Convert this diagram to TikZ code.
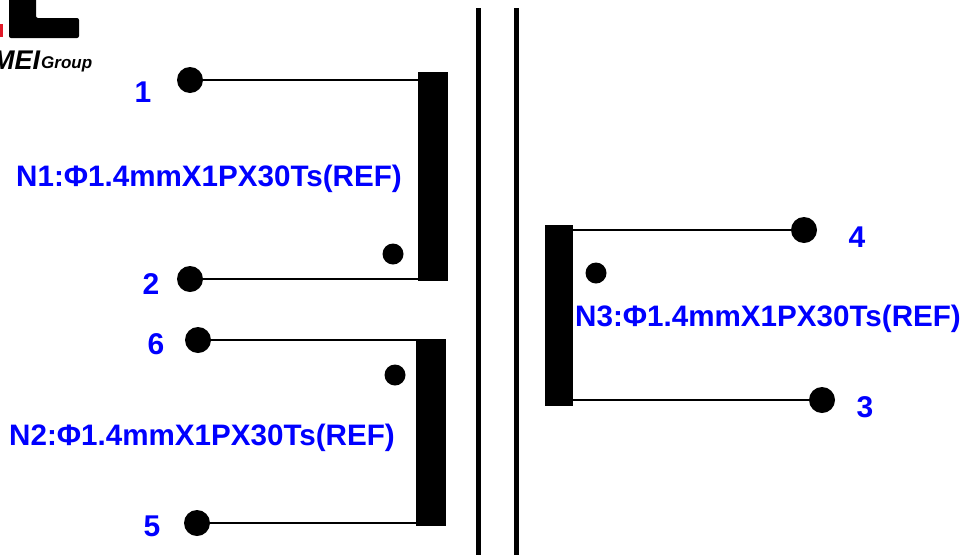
\documentclass[tikz,border=0pt]{standalone}
\usepackage{fontspec}
\setmainfont{Liberation Sans}
\definecolor{lbl}{RGB}{0,0,255}
\definecolor{logored}{RGB}{225,25,40}
\tikzset{
 bar/.style={fill=black,draw=none},
 term/.style={circle,fill=black,draw=none,minimum size=26pt,inner sep=0pt},
 dotm/.style={circle,fill=black,draw=none,minimum size=21pt,inner sep=0pt},
 wire/.style={line width=1.6pt,draw=black},
 core/.style={line width=5pt,draw=black},
 lab/.style={text=lbl,font=\bfseries\fontsize{29.6}{32}\selectfont,inner sep=0pt,anchor=center},
 num/.style={text=lbl,font=\bfseries\fontsize{30}{32}\selectfont,inner sep=0pt,anchor=center},
}
\begin{document}
\begin{tikzpicture}[x=1pt,y=-1pt]
\useasboundingbox (0,0) rectangle (961,555);
\draw[core] (478,8) -- (478,555);
\draw[core] (516.5,8) -- (516.5,555);
\node[bar,minimum width=30pt,minimum height=209pt,inner sep=0pt] (b1) at (433,176) {};
\node[bar,minimum width=30pt,minimum height=187pt,inner sep=0pt] (b2) at (431,432) {};
\node[bar,minimum width=28pt,minimum height=181pt,inner sep=0pt] (b3) at (559,315) {};
\node[term] (t1) at (190,80) {};
\node[term] (t2) at (190,279) {};
\node[term] (t6) at (198,340) {};
\node[term] (t5) at (197,523) {};
\node[term] (t4) at (804,230) {};
\node[term] (t3) at (822,400) {};
\coordinate (c1) at (418,80);
\coordinate (c2) at (418,279);
\coordinate (c6) at (416,340);
\coordinate (c5) at (416,523);
\coordinate (c4) at (573,230);
\coordinate (c3) at (573,400);
\foreach \a/\b in {t1/c1,t2/c2,t6/c6,t5/c5,t4/c4,t3/c3} \draw[wire] (\a) -- (\b);
\node[dotm] (d1) at (393,254) {};
\node[dotm] (d2) at (395,375) {};
\node[dotm] (d3) at (596,273) {};
\node[num] (n1) at (143,92) {1};
\node[num] (n2) at (151,284) {2};
\node[num] (n6) at (156,344) {6};
\node[num] (n5) at (152,526) {5};
\node[num] (n4) at (857,237) {4};
\node[num] (n3) at (865,407) {3};
\node[lab] (l1) at (209,179) {N1:Φ1.4mmX1PX30Ts(REF)};
\node[lab] (l2) at (202,438) {N2:Φ1.4mmX1PX30Ts(REF)};
\node[lab] (l3) at (768,319) {N3:Φ1.4mmX1PX30Ts(REF)};
% logo fragment
\fill[black,rounded corners=2pt] (9,-5) -- (36,-5) -- (36,18) -- (79,18) -- (79,38) -- (9,38) -- cycle;
\fill[logored] (-2,24) rectangle (3,37);
\node[anchor=base west,inner sep=0pt,font=\bfseries\itshape\fontsize{27}{30}\selectfont] (m) at (-8,69) {MEI};
\node[anchor=base west,inner sep=0pt,font=\bfseries\itshape\fontsize{17}{20}\selectfont] (g) at (41,68) {Group};
\end{tikzpicture}
\end{document}
